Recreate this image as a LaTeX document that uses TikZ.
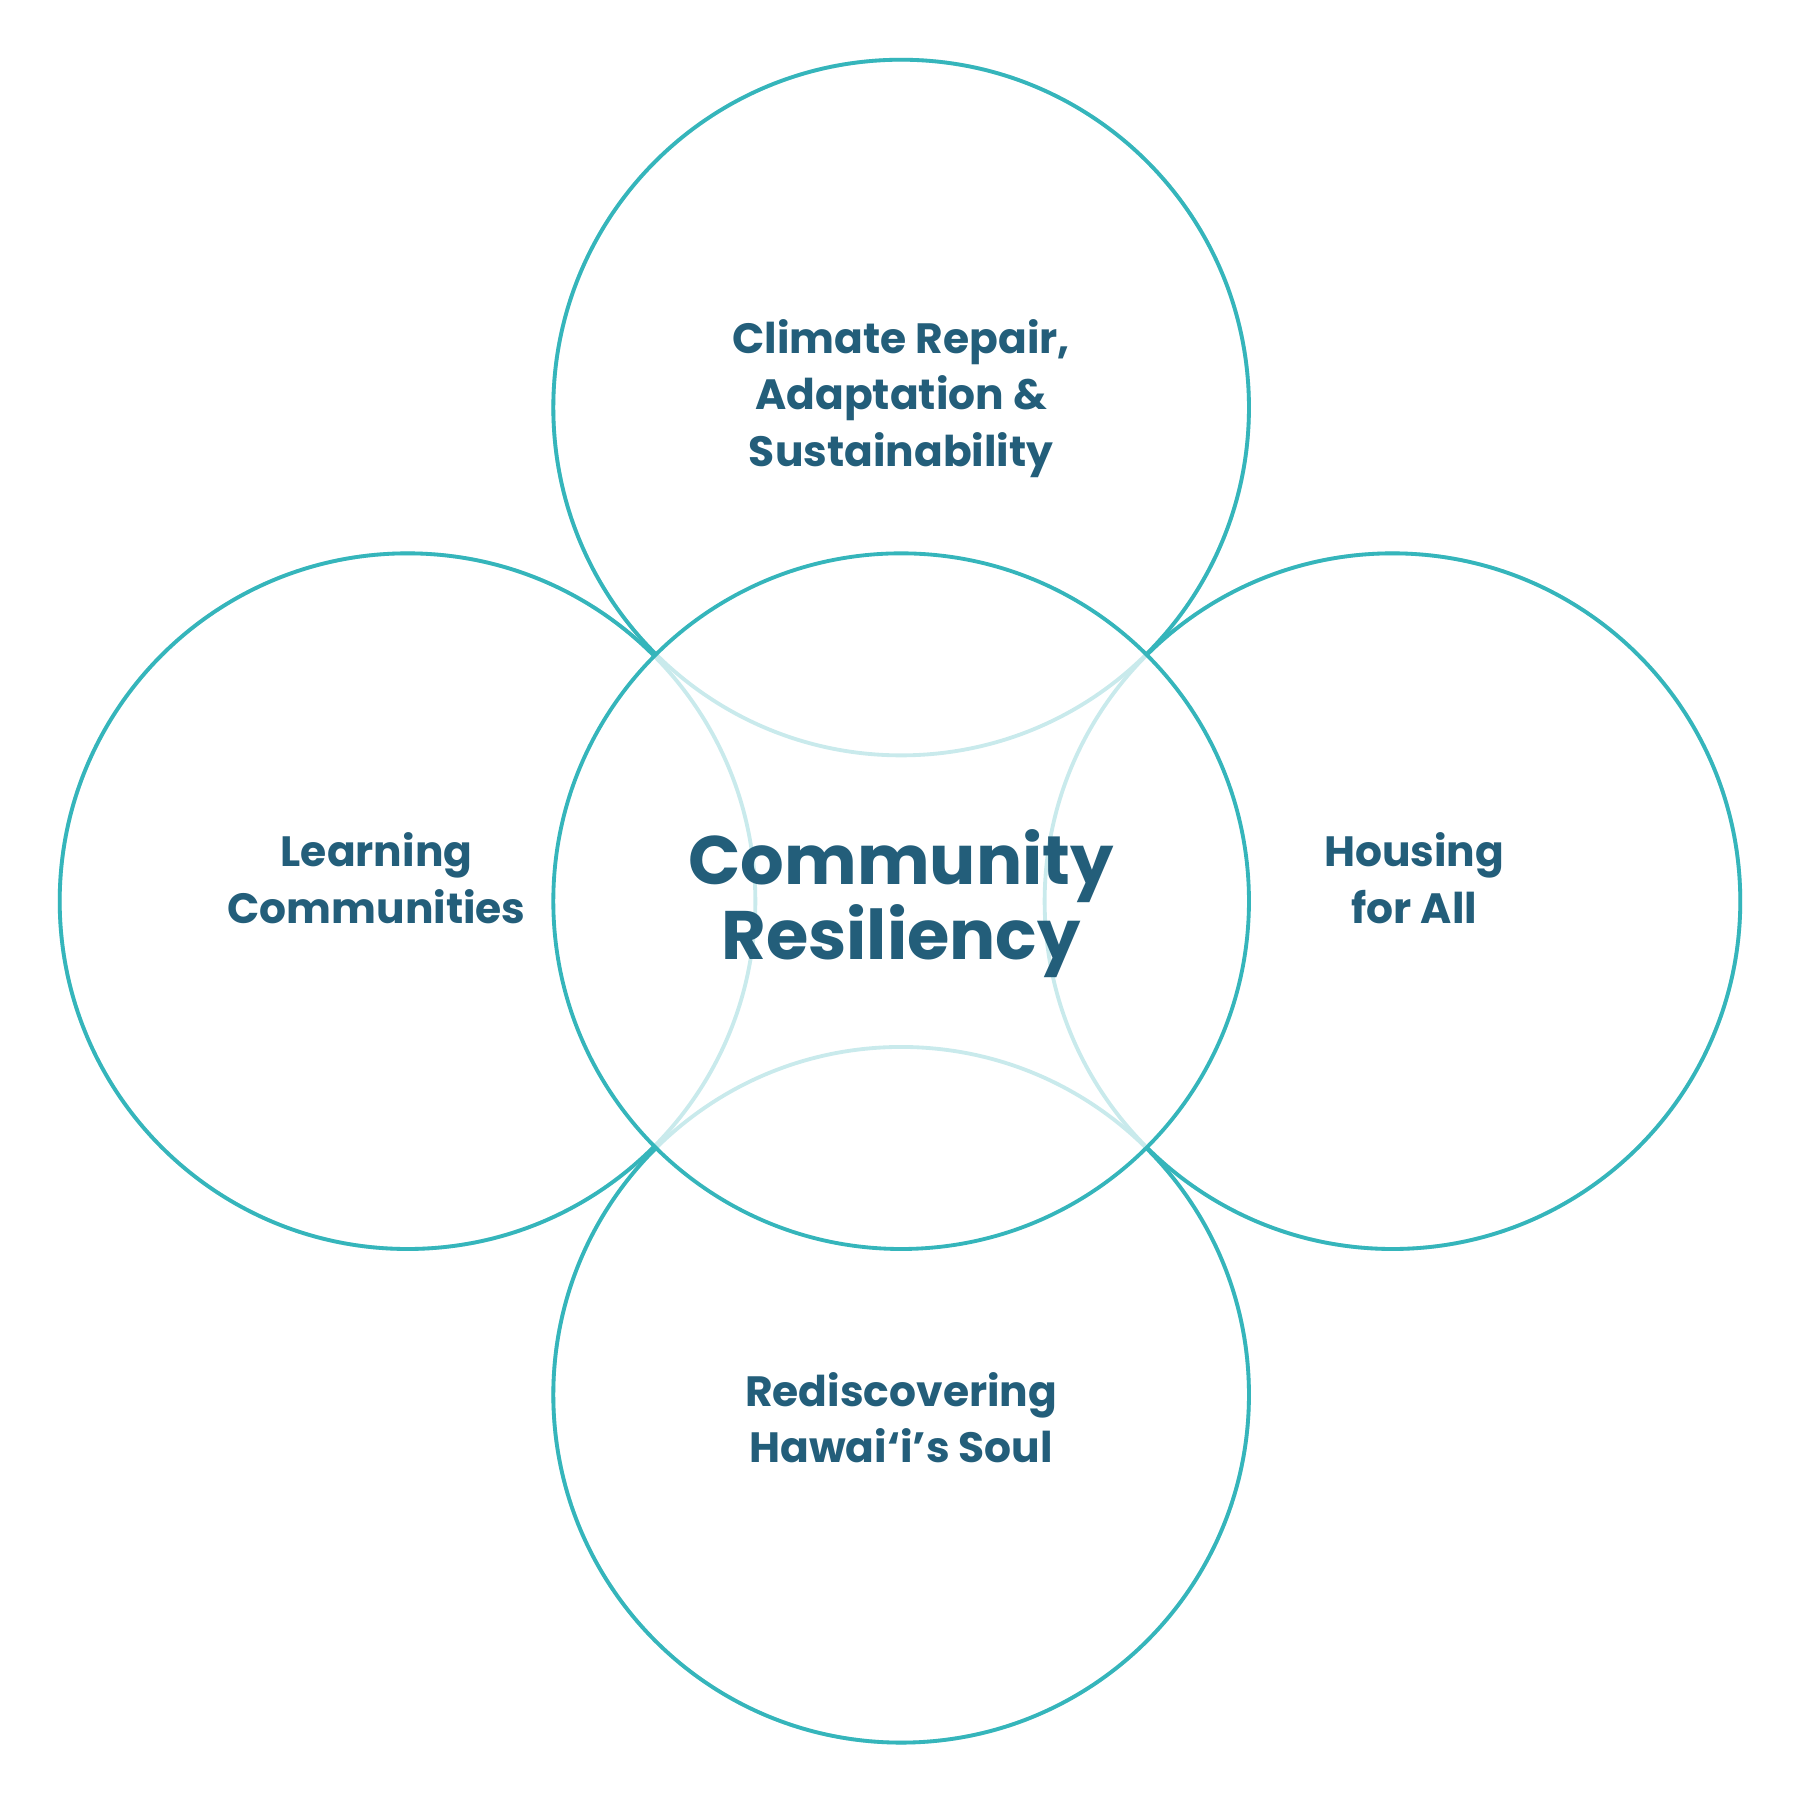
\documentclass[tikz,border=0pt]{standalone}
\usepackage{fontspec}
\setmainfont{Poppins}
\definecolor{ring}{HTML}{35B5BB}
\definecolor{faint}{HTML}{C9EAEC}
\definecolor{txt}{HTML}{235E7A}
\begin{document}
\begin{tikzpicture}[x=0.01cm,y=-0.01cm,
  lab/.style={text=txt,font=\fontsize{10.5}{14}\selectfont\bfseries,align=center},
  big/.style={text=txt,font=\fontsize{17}{18.5}\selectfont\bfseries,align=center}]
\useasboundingbox (0,0) rectangle (1568,1568);
\def\R{303}
\coordinate (c) at (785,785);
\coordinate (t) at (785,355);
\coordinate (l) at (355,785);
\coordinate (r) at (1213,785);
\coordinate (b) at (785,1215);
\foreach \p in {t,l,r,b} \draw[faint,line width=0.95pt] (\p) circle (\R);
\begin{scope}[even odd rule]
  \clip (-10,-10) rectangle (1580,1580) (c) circle (\R);
  \foreach \p in {t,l,r,b} \draw[ring,line width=0.95pt] (\p) circle (\R);
\end{scope}
\draw[ring,line width=0.95pt] (c) circle (\R);
\node[lab] (nt) at (785,347) {Climate Repair,\\Adaptation \&\\Sustainability};
\node[lab] (nl) at (328,765) {Learning\\Communities};
\node[lab] (nr) at (1232,765) {Housing\\for All};
\node[lab] (nb) at (785,1235) {Rediscovering\\Hawai‘i’s Soul};
\node[big] (nc) at (785,787) {Community\\Resiliency};
\end{tikzpicture}
\end{document}
